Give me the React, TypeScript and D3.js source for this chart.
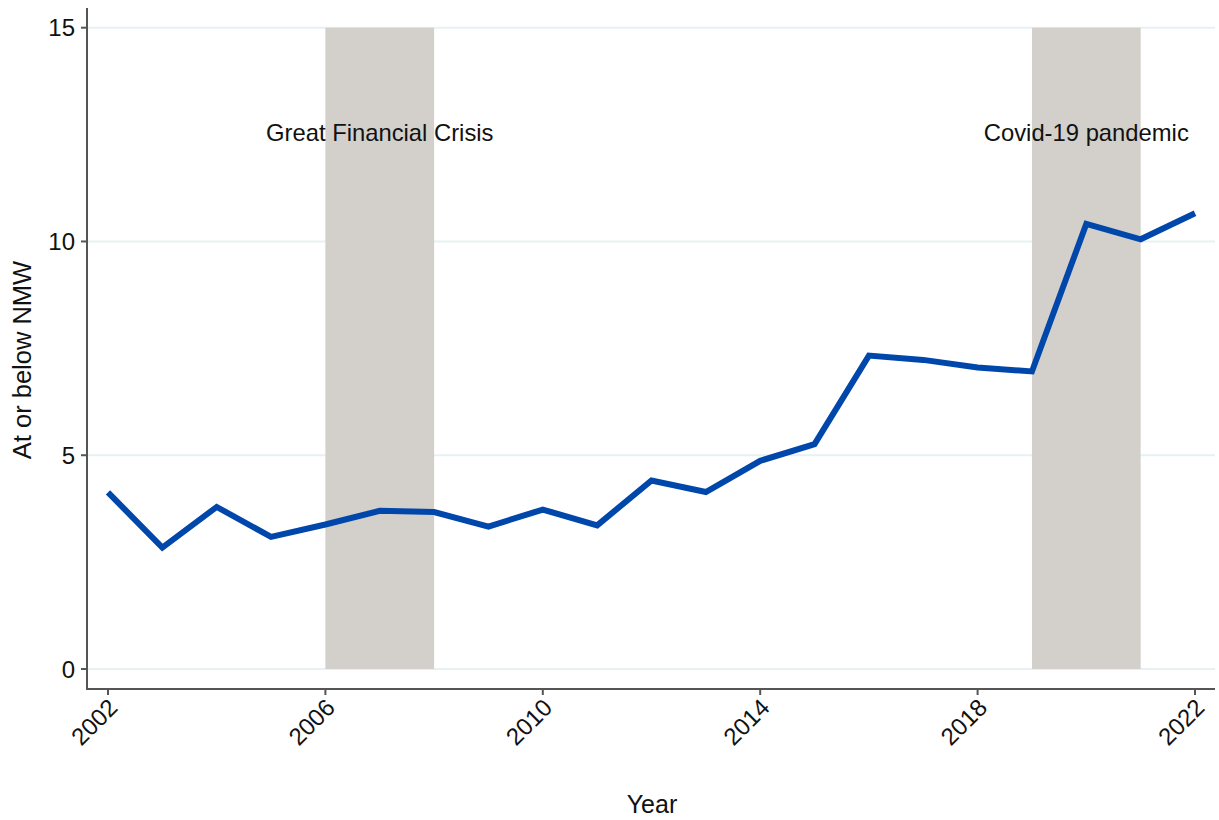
import React from "react";
import * as d3 from "d3";

const years = [2002, 2003, 2004, 2005, 2006, 2007, 2008, 2009, 2010, 2011, 2012, 2013, 2014, 2015, 2016, 2017, 2018, 2019, 2020, 2021, 2022];
const atOrBelowNMW = [4.13, 2.84, 3.79, 3.09, 3.38, 3.70, 3.67, 3.33, 3.73, 3.36, 4.41, 4.14, 4.87, 5.26, 7.33, 7.23, 7.05, 6.96, 10.41, 10.05, 10.66];
const xTicks = [2002, 2006, 2010, 2014, 2018, 2022];
const yTicks = [0, 5, 10, 15];
const crisisNames = ["Great Financial Crisis", "Covid-19 pandemic"];
const crisisStart = [2006, 2019];
const crisisEnd = [2008, 2021];
const labelValue = 12.5;

const W = 1219;
const H = 820;
const FONT = "'Liberation Sans', Arial, sans-serif";

export default function App() {
  const x = d3.scaleLinear().domain([2002, 2022]).range([108, 1195]);
  const y = d3.scaleLinear().domain([0, 15]).range([669, 27.7]);
  const axisX = 87;
  const axisY = 689;
  const right = 1215;

  const line = d3
    .line<number>()
    .x((_, i) => x(years[i]))
    .y((d) => y(d));

  return (
    <svg
      width={W}
      height={H}
      style={{ position: "absolute", left: 0, top: 0, background: "#fff" }}
      fontFamily={FONT}
    >
      {/* gridlines */}
      {yTicks.map((t) => (
        <line key={"g" + t} x1={axisX} x2={right} y1={y(t)} y2={y(t)} stroke="#e8f1f2" strokeWidth={2} />
      ))}
      {/* shaded periods */}
      {crisisNames.map((n, i) => (
        <rect
          key={"r" + n}
          x={x(crisisStart[i])}
          y={y(15)}
          width={x(crisisEnd[i]) - x(crisisStart[i])}
          height={y(0) - y(15)}
          fill="#d3d0cb"
        />
      ))}
      {crisisNames.map((n, i) => (
        <text
          key={"t" + n}
          x={(x(crisisStart[i]) + x(crisisEnd[i])) / 2}
          y={y(labelValue)}
          textAnchor="middle"
          dominantBaseline="middle"
          fontSize={23.8}
          fill="#111"
        >
          {n}
        </text>
      ))}
      {/* line */}
      <path d={line(atOrBelowNMW) || ""} fill="none" stroke="#0047ab" strokeWidth={6} strokeLinejoin="miter" />
      {/* axes */}
      <line x1={axisX} x2={axisX} y1={8} y2={axisY} stroke="#555" strokeWidth={2} />
      <line x1={axisX - 1} x2={right} y1={axisY} y2={axisY} stroke="#555" strokeWidth={2} />
      {yTicks.map((t) => (
        <g key={"yt" + t}>
          <line x1={axisX - 6} x2={axisX} y1={y(t)} y2={y(t)} stroke="#555" strokeWidth={2} />
          <text x={axisX - 12} y={y(t)} textAnchor="end" dominantBaseline="central" fontSize={24} fill="#111">
            {t}
          </text>
        </g>
      ))}
      {xTicks.map((t) => (
        <g key={"xt" + t}>
          <line x1={x(t)} x2={x(t)} y1={axisY} y2={axisY + 6} stroke="#555" strokeWidth={2} />
          <text
            transform={`translate(${x(t) + 5},${axisY + 14}) rotate(-45)`}
            textAnchor="end"
            dominantBaseline="central"
            fontSize={24}
            fill="#111"
          >
            {t}
          </text>
        </g>
      ))}
      <text x={652} y={804} textAnchor="middle" dominantBaseline="central" fontSize={25} fill="#111">
        Year
      </text>
      <text
        transform={`translate(22,360) rotate(-90)`}
        textAnchor="middle"
        dominantBaseline="central"
        fontSize={25.5}
        fill="#111"
      >
        At or below NMW
      </text>
    </svg>
  );
}
